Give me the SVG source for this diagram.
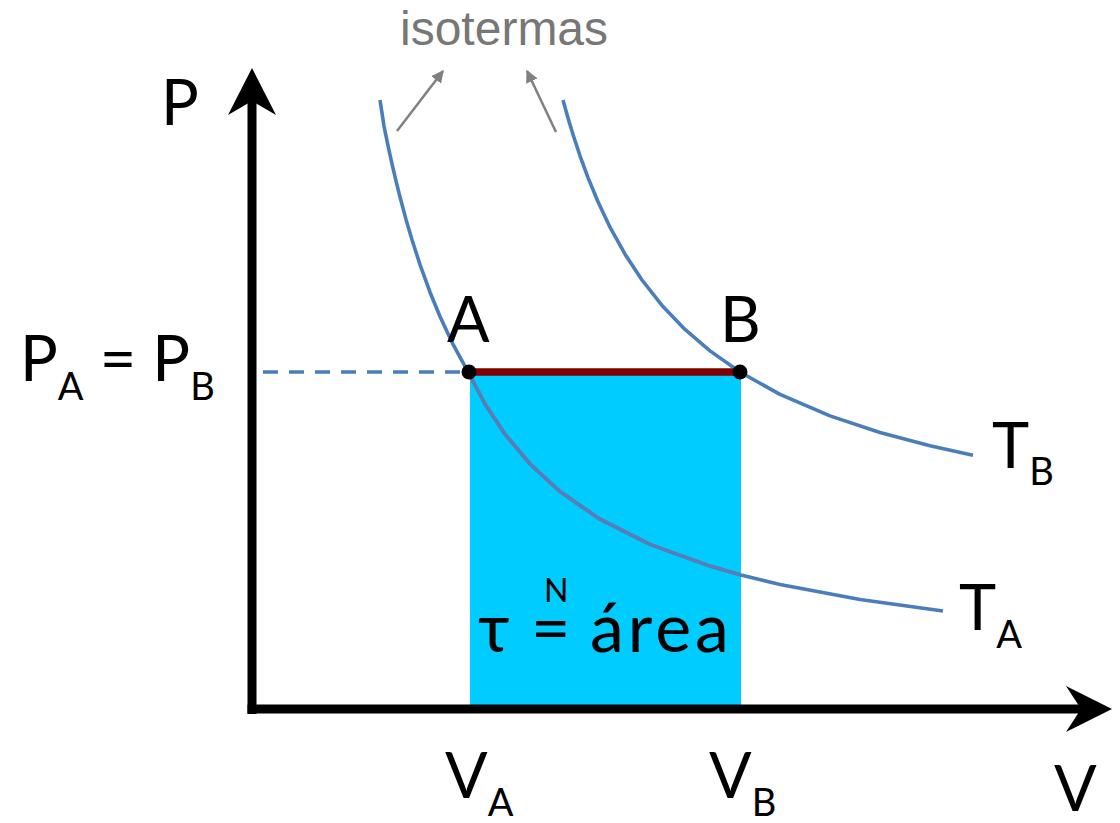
<svg xmlns="http://www.w3.org/2000/svg" width="1120" height="823" viewBox="0 0 1120 823">
<style>
.lbl{font-family:Lato,"Open Sans","Liberation Sans",sans-serif;fill:#000}
.big{font-size:63px}
.sub{font-size:38px}
.curve{fill:none;stroke:#4A7EBB;stroke-width:3.6;stroke-linejoin:round;stroke-linecap:butt}
.gray{stroke:#808080;stroke-width:2.5;fill:none}
</style>
<defs>
<marker id="gh" viewBox="0 0 10 10" refX="9" refY="5" markerWidth="5" markerHeight="5" markerUnits="strokeWidth" orient="auto">
<path d="M0,0 L10,5 L0,10 Z" fill="#808080"/>
</marker>
<clipPath id="rc"><rect x="470" y="376" width="271" height="332"/></clipPath>
</defs>
<rect width="1120" height="823" fill="#fff"/>
<g id="area">
<rect x="470" y="372" width="271" height="336" fill="#00CCFF"/>
</g>
<g id="isotherms">
<path id="TA" class="curve" d="M380,100 L384,126.1 L388,145.6 L392,163.8 L396,180.9 L400,197 L406,219.4 L412,239.8 L420,264.6 L430,292.2 L440,316.5 L452,342.3 L468,371.8 L485,404 L505,434.2 L530,464 L560,491.6 L600,519.2 L650,544.4 L710,566.1 L741,575 L780,584.4 L860,599.5 L943,611"/>
<path class="curve" clip-path="url(#rc)" style="stroke:#5A7DB6" d="M468,371.8 L485,404 L505,434.2 L530,464 L560,491.6 L600,519.2 L650,544.4 L710,566.1 L741,575 L780,584.4"/>
<path id="TB" class="curve" d="M563,100 L568,117.9 L573,134.5 L580,155.8 L588,177.6 L598,201.8 L610,227.2 L625,254.2 L642,280 L662,305.4 L685,329.4 L710,350.9 L740,372 L780,394.4 L830,415.9 L880,432.5 L930,445.8 L973,455.2"/>
</g>
<g id="connectors">
<line x1="263" y1="372" x2="466" y2="372" stroke="#4A7EBB" stroke-width="3.5" stroke-dasharray="15,11"/>
<line x1="469" y1="372" x2="740" y2="372" stroke="#7F0000" stroke-width="7.5"/>
<line class="gray" x1="397" y1="131" x2="443" y2="71" marker-end="url(#gh)"/>
<line class="gray" x1="556" y1="132" x2="527" y2="71" marker-end="url(#gh)"/>
</g>
<g id="points">
<circle cx="469" cy="372" r="7.5" fill="#000"/>
<circle cx="740" cy="372" r="7.5" fill="#000"/>
</g>
<g id="axes" fill="#000">
<rect x="247.5" y="98" width="9" height="616"/>
<path d="M252,68 L276,115 L252,101 L228,115 Z"/>
<rect x="247.5" y="704.5" width="838" height="9"/>
<path d="M1112,709 L1066,686 L1081,709 L1066,732 Z"/>
</g>
<g id="labels">
<text class="lbl big" x="161" y="125">P</text>
<text class="lbl" x="20" y="381"><tspan class="big">P</tspan><tspan class="sub" dy="19">A</tspan><tspan class="big" dy="-19"> = P</tspan><tspan class="sub" dy="19">B</tspan></text>
<text class="lbl big" x="447" y="342">A</text>
<text class="lbl big" x="720" y="342">B</text>
<text class="lbl" x="992" y="468"><tspan class="big">T</tspan><tspan class="sub" dy="17">B</tspan></text>
<text class="lbl" x="959" y="630"><tspan class="big">T</tspan><tspan class="sub" dy="18">A</tspan></text>
<text class="lbl" x="445" y="798"><tspan class="big">V</tspan><tspan class="sub" dy="18">A</tspan></text>
<text class="lbl" x="709" y="798"><tspan class="big">V</tspan><tspan class="sub" dy="18">B</tspan></text>
<text class="lbl big" x="1054" y="811">V</text>
<text class="lbl" font-size="68"><tspan x="478" y="652">τ</tspan><tspan x="531" y="652">=</tspan><tspan x="590" y="652" letter-spacing="4">área</tspan><tspan x="544" y="602" font-size="32">N</tspan></text>
<text x="400" y="45" font-family="'Liberation Sans',Arial,sans-serif" font-size="48" fill="#777777">isotermas</text>
</g>
</svg>
